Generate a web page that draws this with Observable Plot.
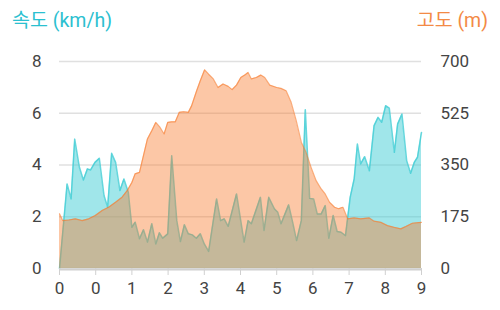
<!DOCTYPE html>
<html><head><meta charset="utf-8">
<script src="https://cdn.jsdelivr.net/npm/d3@7"></script>
<script src="https://cdn.jsdelivr.net/npm/@observablehq/plot@0.6"></script>
<style>
body{margin:0;background:#fff;font-family:Roboto,"Noto Sans CJK KR",sans-serif;}
#wrap{position:relative;width:500px;height:310px;}
#wrap svg{position:absolute;left:0;top:0;}
.t{position:absolute;top:7px;font-size:19.5px;line-height:28px;z-index:2;}
#t1{left:12px;color:#2bc0d0;}
#t2{right:12px;color:#f38a45;}
</style></head><body>
<div id="wrap"><div class="t" id="t1">속도 (km/h)</div><div class="t" id="t2">고도 (m)</div></div>
<script>
const xTickLabels = ["0","0","1","2","3","4","5","6","7","8","9"];
const speedTicks = [0,2,4,6,8];
const altTicks = [0,175,350,525,700];
const speedMax = 8, altMax = 700;

const speedX = [0,0.21,0.32,0.42,0.55,0.66,0.77,0.86,0.98,1.10,1.23,1.33,1.44,1.55,1.67,1.78,1.90,2.00,2.09,2.21,2.32,2.43,2.55,2.66,2.76,2.85,2.99,3.10,3.24,3.34,3.45,3.56,3.67,3.78,3.89,4.00,4.12,4.34,4.45,4.55,4.66,4.89,5.10,5.21,5.30,5.55,5.65,5.78,5.94,6.03,6.12,6.33,6.44,6.55,6.68,6.79,6.91,7.02,7.12,7.23,7.34,7.44,7.56,7.67,7.78,7.90,8.03,8.14,8.23,8.32,8.43,8.56,8.69,8.80,8.90,9.01,9.11,9.25,9.34,9.46,9.59,9.70,9.80,9.89,10];
const speedV = [0,3.27,2.69,5.0,3.91,3.42,3.85,3.81,4.1,4.26,2.82,2.37,4.45,4.1,3.01,3.46,2.95,1.59,1.79,1.15,1.5,1.02,1.73,0.95,1.38,1.17,1.34,4.36,1.85,1.04,1.69,1.34,1.30,1.17,1.34,0.95,0.66,2.69,1.85,1.92,1.63,2.88,1.02,1.85,1.73,2.75,1.47,2.75,2.3,2.17,1.73,2.46,1.79,1.08,1.85,6.14,2.71,2.69,2.11,2.11,2.43,1.17,2.05,1.43,1.40,1.27,2.75,3.46,4.81,4.04,4.32,3.78,5.52,5.84,5.65,6.29,6.2,4.49,5.58,5.97,4.17,3.68,4.1,4.3,5.26];

const altX = [0,0.09,0.26,0.44,0.63,0.81,0.99,1.18,1.36,1.55,1.73,1.87,2.00,2.09,2.21,2.32,2.43,2.55,2.66,2.78,2.89,2.99,3.10,3.20,3.31,3.43,3.56,3.65,3.79,3.89,4.01,4.12,4.25,4.38,4.52,4.66,4.77,4.89,5.01,5.12,5.21,5.30,5.44,5.56,5.67,5.81,6.0,6.12,6.26,6.40,6.54,6.68,6.81,6.95,7.09,7.23,7.34,7.46,7.60,7.71,7.83,7.96,8.14,8.32,8.56,8.69,8.88,9.06,9.25,9.43,9.57,9.75,10];
const altV = [185,162,164,168,162,168,179,196,207,224,241,263,291,320,325,382,438,466,494,477,455,494,496,496,528,530,528,550,601,635,672,657,641,612,624,616,605,620,646,654,663,641,646,654,646,620,612,609,601,562,500,427,393,342,297,269,252,224,207,202,207,168,171,168,171,160,156,145,139,134,142,153,156];

const speed = speedX.map((x, i) => ({x, v: speedV[i]}));
const alt = altX.map((x, i) => ({x, v: altV[i] * speedMax / altMax}));

const cyan = "#41cdd5", orange = "#f77a2c";

const chart = Plot.plot({
  width: 500, height: 310,
  marginTop: 61, marginBottom: 42, marginLeft: 59, marginRight: 79,
  x: {domain: [0, 10], label: null},
  y: {domain: [0, speedMax], label: null},
  style: {fontFamily: "Roboto, sans-serif", fontSize: "17px", color: "#444", background: "transparent"},
  marks: [
    Plot.gridY(speedTicks, {stroke: "#e0e0e0", strokeOpacity: 1, strokeWidth: 1.5}),
    Plot.areaY(speed, {x: "x", y: "v", fill: cyan, fillOpacity: 0.5}),
    Plot.lineY(speed, {x: "x", y: "v", stroke: cyan, strokeWidth: 1.5, strokeOpacity: 0.8}),
    Plot.areaY(alt, {x: "x", y: "v", fill: orange, fillOpacity: 0.42}),
    Plot.lineY(alt, {x: "x", y: "v", stroke: orange, strokeWidth: 1.2, strokeOpacity: 0.6}),
    Plot.ruleY([0], {stroke: "#d0d0d0", strokeWidth: 2, dy: 1}),
    Plot.axisX(d3.range(11), {tickSize: 7, tickPadding: 6, stroke: "#d0d0d0", tickFormat: d => xTickLabels[d], label: null}),
    Plot.axisY(speedTicks, {anchor: "left", tickSize: 0, tickPadding: 18, label: null}),
    Plot.axisY(altTicks.map(v => v * speedMax / altMax), {anchor: "right", tickSize: 0, tickPadding: 19, tickFormat: d => String(Math.round(d * altMax / speedMax)), label: null})
  ]
});
document.getElementById("wrap").appendChild(chart);
</script>
</body></html>
